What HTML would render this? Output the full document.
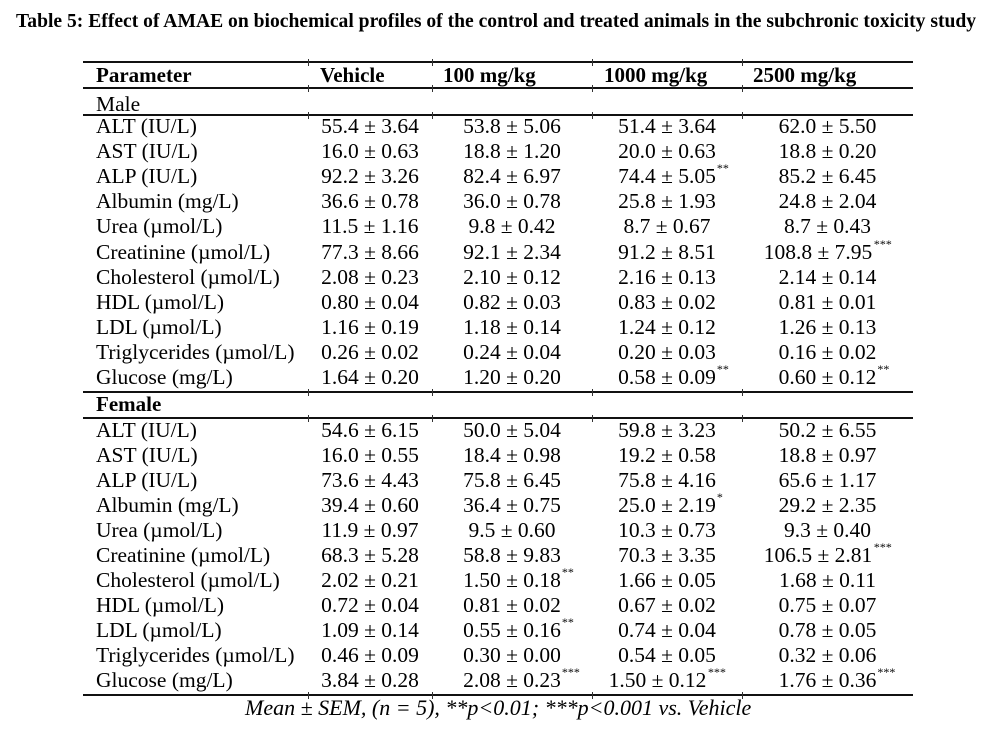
<!DOCTYPE html>
<html>
<head>
<meta charset="utf-8">
<style>
  html,body{margin:0;padding:0;background:#fff;}
  body{width:982px;height:734px;position:relative;overflow:hidden;font-family:"Liberation Serif","Times New Roman",serif;color:#000;}
  .t{position:absolute;line-height:1;white-space:nowrap;font-size:21.5px;}
  .title{position:absolute;left:16px;top:11.9px;font-size:19.6px;font-weight:bold;line-height:1;white-space:nowrap;}
  .h{position:absolute;font-size:21px;font-weight:bold;line-height:1;white-space:nowrap;}
  .ln{position:absolute;left:83px;width:830px;height:2px;background:#111;}
  .tk{position:absolute;width:1px;height:7px;background:#333;}
  .c{position:absolute;line-height:1;white-space:nowrap;font-size:21.5px;text-align:center;}
  .c span{position:relative;}
  .s{position:absolute;left:100%;top:-2px;font-size:12px;line-height:12px;font-style:normal;margin-left:1px;}
  .si{font-size:12px;position:relative;top:-11px;margin-left:1px;}
  .foot{position:absolute;left:245px;top:696.6px;font-size:22px;font-style:italic;line-height:1;white-space:nowrap;}
</style>
</head>
<body>
<div class="title">Table 5: Effect of AMAE on biochemical profiles of the control and treated animals in the subchronic toxicity study</div>

<!-- horizontal rules -->
<div class="ln" style="top:61px"></div>
<div class="ln" style="top:87px"></div>
<div class="ln" style="top:114px"></div>
<div class="ln" style="top:391px"></div>
<div class="ln" style="top:417px"></div>
<div class="ln" style="top:694px"></div>

<!-- ticks -->
<div class="tk" style="left:308px;top:59px"></div><div class="tk" style="left:432px;top:59px"></div><div class="tk" style="left:592px;top:59px"></div><div class="tk" style="left:742px;top:59px"></div>
<div class="tk" style="left:308px;top:85px"></div><div class="tk" style="left:432px;top:85px"></div><div class="tk" style="left:592px;top:85px"></div><div class="tk" style="left:742px;top:85px"></div>
<div class="tk" style="left:308px;top:112px"></div><div class="tk" style="left:432px;top:112px"></div><div class="tk" style="left:592px;top:112px"></div><div class="tk" style="left:742px;top:112px"></div>
<div class="tk" style="left:308px;top:389px"></div><div class="tk" style="left:432px;top:389px"></div><div class="tk" style="left:592px;top:389px"></div><div class="tk" style="left:742px;top:389px"></div>
<div class="tk" style="left:308px;top:415px"></div><div class="tk" style="left:432px;top:415px"></div><div class="tk" style="left:592px;top:415px"></div><div class="tk" style="left:742px;top:415px"></div>
<div class="tk" style="left:308px;top:692px"></div><div class="tk" style="left:432px;top:692px"></div><div class="tk" style="left:592px;top:692px"></div><div class="tk" style="left:742px;top:692px"></div>

<!-- header -->
<div class="h" style="left:96px;top:65.4px">Parameter</div>
<div class="h" style="left:320px;top:65.4px">Vehicle</div>
<div class="h" style="left:443px;top:65.4px">100 mg/kg</div>
<div class="h" style="left:604px;top:65.4px">1000 mg/kg</div>
<div class="h" style="left:753px;top:65.4px">2500 mg/kg</div>

<!-- Male -->
<div class="t" style="left:96px;top:93.5px">Male</div>

<!-- Male rows: top = 116 + 25.1*i -->
<div class="t" style="left:96px;top:116px">ALT (IU/L)</div>
<div class="c" style="left:308px;width:124px;top:116px"><span>55.4 ± 3.64</span></div>
<div class="c" style="left:432px;width:160px;top:116px"><span>53.8 ± 5.06</span></div>
<div class="c" style="left:592px;width:150px;top:116px"><span>51.4 ± 3.64</span></div>
<div class="c" style="left:742px;width:171px;top:116px"><span>62.0 ± 5.50</span></div>

<div class="t" style="left:96px;top:141.1px">AST (IU/L)</div>
<div class="c" style="left:308px;width:124px;top:141.1px"><span>16.0 ± 0.63</span></div>
<div class="c" style="left:432px;width:160px;top:141.1px"><span>18.8 ± 1.20</span></div>
<div class="c" style="left:592px;width:150px;top:141.1px"><span>20.0 ± 0.63</span></div>
<div class="c" style="left:742px;width:171px;top:141.1px"><span>18.8 ± 0.20</span></div>

<div class="t" style="left:96px;top:166.2px">ALP (IU/L)</div>
<div class="c" style="left:308px;width:124px;top:166.2px"><span>92.2 ± 3.26</span></div>
<div class="c" style="left:432px;width:160px;top:166.2px"><span>82.4 ± 6.97</span></div>
<div class="c" style="left:592px;width:150px;top:166.2px"><span>74.4 ± 5.05<i class="s">**</i></span></div>
<div class="c" style="left:742px;width:171px;top:166.2px"><span>85.2 ± 6.45</span></div>

<div class="t" style="left:96px;top:191.3px">Albumin (mg/L)</div>
<div class="c" style="left:308px;width:124px;top:191.3px"><span>36.6 ± 0.78</span></div>
<div class="c" style="left:432px;width:160px;top:191.3px"><span>36.0 ± 0.78</span></div>
<div class="c" style="left:592px;width:150px;top:191.3px"><span>25.8 ± 1.93</span></div>
<div class="c" style="left:742px;width:171px;top:191.3px"><span>24.8 ± 2.04</span></div>

<div class="t" style="left:96px;top:216.4px">Urea (µmol/L)</div>
<div class="c" style="left:308px;width:124px;top:216.4px"><span>11.5 ± 1.16</span></div>
<div class="c" style="left:432px;width:160px;top:216.4px"><span>9.8 ± 0.42</span></div>
<div class="c" style="left:592px;width:150px;top:216.4px"><span>8.7 ± 0.67</span></div>
<div class="c" style="left:742px;width:171px;top:216.4px"><span>8.7 ± 0.43</span></div>

<div class="t" style="left:96px;top:241.5px">Creatinine (µmol/L)</div>
<div class="c" style="left:308px;width:124px;top:241.5px"><span>77.3 ± 8.66</span></div>
<div class="c" style="left:432px;width:160px;top:241.5px"><span>92.1 ± 2.34</span></div>
<div class="c" style="left:592px;width:150px;top:241.5px"><span>91.2 ± 8.51</span></div>
<div class="c" style="left:742px;width:171px;top:241.5px"><span>108.8 ± 7.95<i class="si">***</i></span></div>

<div class="t" style="left:96px;top:266.6px">Cholesterol (µmol/L)</div>
<div class="c" style="left:308px;width:124px;top:266.6px"><span>2.08 ± 0.23</span></div>
<div class="c" style="left:432px;width:160px;top:266.6px"><span>2.10 ± 0.12</span></div>
<div class="c" style="left:592px;width:150px;top:266.6px"><span>2.16 ± 0.13</span></div>
<div class="c" style="left:742px;width:171px;top:266.6px"><span>2.14 ± 0.14</span></div>

<div class="t" style="left:96px;top:291.7px">HDL (µmol/L)</div>
<div class="c" style="left:308px;width:124px;top:291.7px"><span>0.80 ± 0.04</span></div>
<div class="c" style="left:432px;width:160px;top:291.7px"><span>0.82 ± 0.03</span></div>
<div class="c" style="left:592px;width:150px;top:291.7px"><span>0.83 ± 0.02</span></div>
<div class="c" style="left:742px;width:171px;top:291.7px"><span>0.81 ± 0.01</span></div>

<div class="t" style="left:96px;top:316.8px">LDL (µmol/L)</div>
<div class="c" style="left:308px;width:124px;top:316.8px"><span>1.16 ± 0.19</span></div>
<div class="c" style="left:432px;width:160px;top:316.8px"><span>1.18 ± 0.14</span></div>
<div class="c" style="left:592px;width:150px;top:316.8px"><span>1.24 ± 0.12</span></div>
<div class="c" style="left:742px;width:171px;top:316.8px"><span>1.26 ± 0.13</span></div>

<div class="t" style="left:96px;top:341.9px">Triglycerides (µmol/L)</div>
<div class="c" style="left:308px;width:124px;top:341.9px"><span>0.26 ± 0.02</span></div>
<div class="c" style="left:432px;width:160px;top:341.9px"><span>0.24 ± 0.04</span></div>
<div class="c" style="left:592px;width:150px;top:341.9px"><span>0.20 ± 0.03</span></div>
<div class="c" style="left:742px;width:171px;top:341.9px"><span>0.16 ± 0.02</span></div>

<div class="t" style="left:96px;top:367px">Glucose (mg/L)</div>
<div class="c" style="left:308px;width:124px;top:367px"><span>1.64 ± 0.20</span></div>
<div class="c" style="left:432px;width:160px;top:367px"><span>1.20 ± 0.20</span></div>
<div class="c" style="left:592px;width:150px;top:367px"><span>0.58 ± 0.09<i class="s">**</i></span></div>
<div class="c" style="left:742px;width:171px;top:367px"><span>0.60 ± 0.12<i class="s">**</i></span></div>

<!-- Female -->
<div class="h" style="left:96px;top:394px">Female</div>

<!-- Female rows: top = 420.3 + 25*i -->
<div class="t" style="left:96px;top:420.3px">ALT (IU/L)</div>
<div class="c" style="left:308px;width:124px;top:420.3px"><span>54.6 ± 6.15</span></div>
<div class="c" style="left:432px;width:160px;top:420.3px"><span>50.0 ± 5.04</span></div>
<div class="c" style="left:592px;width:150px;top:420.3px"><span>59.8 ± 3.23</span></div>
<div class="c" style="left:742px;width:171px;top:420.3px"><span>50.2 ± 6.55</span></div>

<div class="t" style="left:96px;top:445.3px">AST (IU/L)</div>
<div class="c" style="left:308px;width:124px;top:445.3px"><span>16.0 ± 0.55</span></div>
<div class="c" style="left:432px;width:160px;top:445.3px"><span>18.4 ± 0.98</span></div>
<div class="c" style="left:592px;width:150px;top:445.3px"><span>19.2 ± 0.58</span></div>
<div class="c" style="left:742px;width:171px;top:445.3px"><span>18.8 ± 0.97</span></div>

<div class="t" style="left:96px;top:470.3px">ALP (IU/L)</div>
<div class="c" style="left:308px;width:124px;top:470.3px"><span>73.6 ± 4.43</span></div>
<div class="c" style="left:432px;width:160px;top:470.3px"><span>75.8 ± 6.45</span></div>
<div class="c" style="left:592px;width:150px;top:470.3px"><span>75.8 ± 4.16</span></div>
<div class="c" style="left:742px;width:171px;top:470.3px"><span>65.6 ± 1.17</span></div>

<div class="t" style="left:96px;top:495.3px">Albumin (mg/L)</div>
<div class="c" style="left:308px;width:124px;top:495.3px"><span>39.4 ± 0.60</span></div>
<div class="c" style="left:432px;width:160px;top:495.3px"><span>36.4 ± 0.75</span></div>
<div class="c" style="left:592px;width:150px;top:495.3px"><span>25.0 ± 2.19<i class="s">*</i></span></div>
<div class="c" style="left:742px;width:171px;top:495.3px"><span>29.2 ± 2.35</span></div>

<div class="t" style="left:96px;top:520.3px">Urea (µmol/L)</div>
<div class="c" style="left:308px;width:124px;top:520.3px"><span>11.9 ± 0.97</span></div>
<div class="c" style="left:432px;width:160px;top:520.3px"><span>9.5 ± 0.60</span></div>
<div class="c" style="left:592px;width:150px;top:520.3px"><span>10.3 ± 0.73</span></div>
<div class="c" style="left:742px;width:171px;top:520.3px"><span>9.3 ± 0.40</span></div>

<div class="t" style="left:96px;top:545.3px">Creatinine (µmol/L)</div>
<div class="c" style="left:308px;width:124px;top:545.3px"><span>68.3 ± 5.28</span></div>
<div class="c" style="left:432px;width:160px;top:545.3px"><span>58.8 ± 9.83</span></div>
<div class="c" style="left:592px;width:150px;top:545.3px"><span>70.3 ± 3.35</span></div>
<div class="c" style="left:742px;width:171px;top:545.3px"><span>106.5 ± 2.81<i class="si">***</i></span></div>

<div class="t" style="left:96px;top:570.3px">Cholesterol (µmol/L)</div>
<div class="c" style="left:308px;width:124px;top:570.3px"><span>2.02 ± 0.21</span></div>
<div class="c" style="left:432px;width:160px;top:570.3px"><span>1.50 ± 0.18<i class="s">**</i></span></div>
<div class="c" style="left:592px;width:150px;top:570.3px"><span>1.66 ± 0.05</span></div>
<div class="c" style="left:742px;width:171px;top:570.3px"><span>1.68 ± 0.11</span></div>

<div class="t" style="left:96px;top:595.3px">HDL (µmol/L)</div>
<div class="c" style="left:308px;width:124px;top:595.3px"><span>0.72 ± 0.04</span></div>
<div class="c" style="left:432px;width:160px;top:595.3px"><span>0.81 ± 0.02</span></div>
<div class="c" style="left:592px;width:150px;top:595.3px"><span>0.67 ± 0.02</span></div>
<div class="c" style="left:742px;width:171px;top:595.3px"><span>0.75 ± 0.07</span></div>

<div class="t" style="left:96px;top:620.3px">LDL (µmol/L)</div>
<div class="c" style="left:308px;width:124px;top:620.3px"><span>1.09 ± 0.14</span></div>
<div class="c" style="left:432px;width:160px;top:620.3px"><span>0.55 ± 0.16<i class="s">**</i></span></div>
<div class="c" style="left:592px;width:150px;top:620.3px"><span>0.74 ± 0.04</span></div>
<div class="c" style="left:742px;width:171px;top:620.3px"><span>0.78 ± 0.05</span></div>

<div class="t" style="left:96px;top:645.3px">Triglycerides (µmol/L)</div>
<div class="c" style="left:308px;width:124px;top:645.3px"><span>0.46 ± 0.09</span></div>
<div class="c" style="left:432px;width:160px;top:645.3px"><span>0.30 ± 0.00</span></div>
<div class="c" style="left:592px;width:150px;top:645.3px"><span>0.54 ± 0.05</span></div>
<div class="c" style="left:742px;width:171px;top:645.3px"><span>0.32 ± 0.06</span></div>

<div class="t" style="left:96px;top:670.3px">Glucose (mg/L)</div>
<div class="c" style="left:308px;width:124px;top:670.3px"><span>3.84 ± 0.28</span></div>
<div class="c" style="left:432px;width:160px;top:670.3px"><span>2.08 ± 0.23<i class="s">***</i></span></div>
<div class="c" style="left:592px;width:150px;top:670.3px"><span>1.50 ± 0.12<i class="si">***</i></span></div>
<div class="c" style="left:742px;width:171px;top:670.3px"><span>1.76 ± 0.36<i class="s">***</i></span></div>

<div class="foot">Mean ± SEM, (n = 5), **p&lt;0.01; ***p&lt;0.001 vs. Vehicle</div>
</body>
</html>
